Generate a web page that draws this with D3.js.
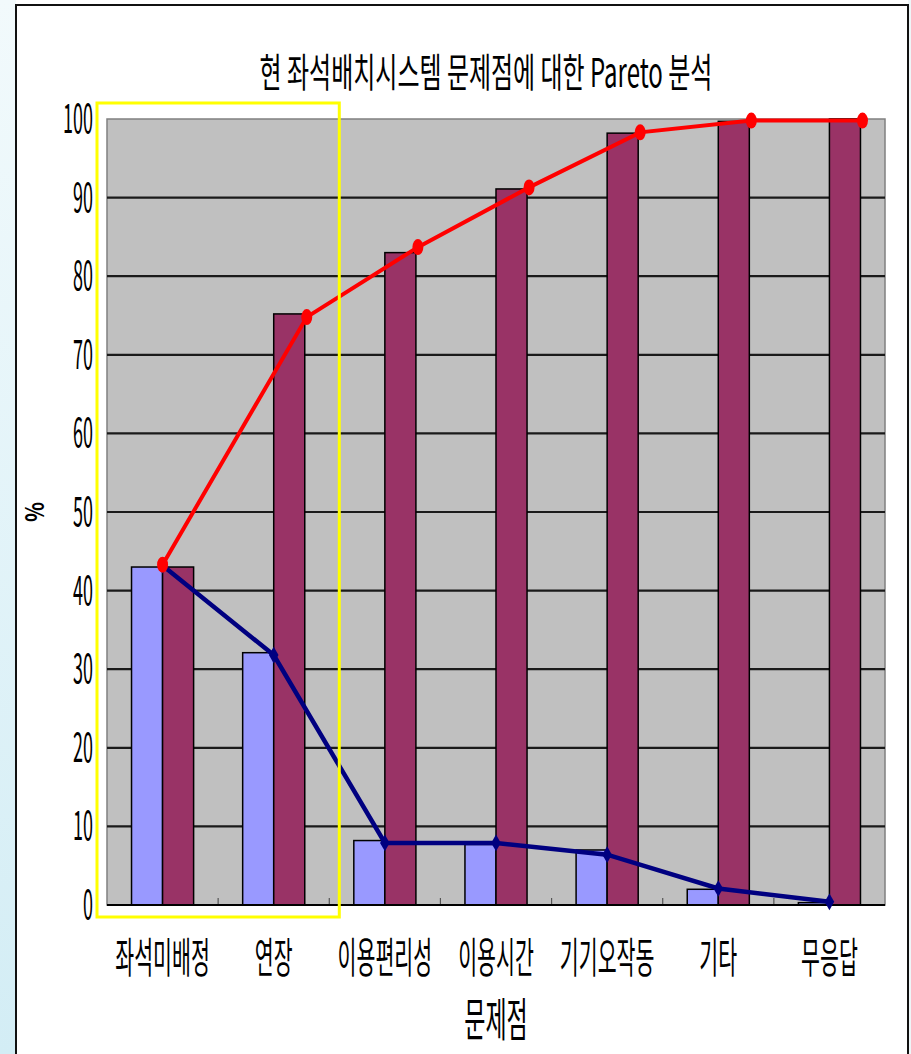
<!DOCTYPE html>
<html>
<head>
<meta charset="utf-8">
<script src="https://cdn.jsdelivr.net/npm/d3@7"></script>
<style>
  body { margin: 0; background: #fff; }
  svg text { font-family: "Noto Sans CJK KR", "Noto Sans", sans-serif; fill: #000; }
</style>
</head>
<body>
<div id="chart"></div>
<script>
// 문제점 categories
var categories = ["좌석미배정", "연장", "이용편리성", "이용시간", "기기오작동", "기타", "무응답"];
// 빈도 % (bars) and cumulative % (bars)
var freqValues = [43.0, 32.1, 8.2, 7.7, 7.0, 2.0, 0.3];
var cumValues = [43.0, 75.2, 83.0, 91.1, 98.2, 99.7, 100];
// line series as plotted
var freqLine = [43.2, 31.8, 7.9, 7.9, 6.4, 2.1, 0.4];
var cumLine = [43.3, 74.8, 83.7, 91.3, 98.3, 99.8, 99.8];
var yTicks = [0, 10, 20, 30, 40, 50, 60, 70, 80, 90, 100];

var svgWidth = 911;
var svgHeight = 1054;
var margin = { top: 119, right: 26, bottom: 149, left: 107 };
var chart_width = svgWidth - margin.left - margin.right;
var chart_height = svgHeight - margin.top - margin.bottom;

var svg = d3.select("#chart")
    .append("svg")
    .attr("width", svgWidth)
    .attr("height", svgHeight);

// left light-blue strip
var grad = svg.append("defs").append("linearGradient")
    .attr("id", "side").attr("x1", 0).attr("y1", 0).attr("x2", 0).attr("y2", 1);
grad.append("stop").attr("offset", "0%").attr("stop-color", "#f2fafc");
grad.append("stop").attr("offset", "100%").attr("stop-color", "#d3edf5");
svg.append("rect").attr("x", 0).attr("y", 0).attr("width", 16).attr("height", svgHeight)
    .attr("fill", "url(#side)");
svg.append("rect").attr("x", 908).attr("y", 0).attr("width", 3).attr("height", svgHeight)
    .attr("fill", "#eef6f8");

// outer frame
svg.append("rect")
    .attr("x", 16).attr("y", 5)
    .attr("width", 892).attr("height", svgHeight)
    .attr("fill", "#fff")
    .attr("stroke", "#111")
    .attr("stroke-width", 2);

// condensed text helper
function label(g, x, y, str, size, sx, anchor, weight) {
    return g.append("text")
        .attr("transform", `translate(${x}, ${y}) scale(${sx}, 1)`)
        .attr("text-anchor", anchor || "middle")
        .style("font-size", size + "px")
        .style("font-weight", weight || "normal")
        .text(str);
}

var chartGroup = svg.append("g")
    .attr("transform", `translate(${margin.left}, ${margin.top})`);

var xScale = d3.scaleBand()
    .domain(categories)
    .range([0, chart_width]);

var xSub = d3.scaleBand()
    .domain(["freq", "cum"])
    .range([0, xScale.bandwidth()])
    .paddingOuter(0.79);

var yScale = d3.scaleLinear()
    .domain([0, 100])
    .range([chart_height, 0]);

var bw = xSub.bandwidth();
var center = d => xScale(d) + xScale.bandwidth() / 2;

// plot area
chartGroup.append("rect")
    .attr("width", chart_width)
    .attr("height", chart_height)
    .attr("fill", "#c0c0c0")
    .attr("stroke", "#808080")
    .attr("stroke-width", 1.5);

// gridlines
chartGroup.append("g")
    .selectAll("line")
    .data(yTicks.filter(t => t > 0 && t < 100))
    .enter()
    .append("line")
    .attr("x1", 0).attr("x2", chart_width)
    .attr("y1", d => yScale(d)).attr("y2", d => yScale(d))
    .attr("stroke", "#1a1a1a")
    .attr("stroke-width", 2.2);

// inside x ticks at category boundaries
chartGroup.append("g")
    .selectAll("line")
    .data(categories.slice(1))
    .enter()
    .append("line")
    .attr("x1", d => xScale(d)).attr("x2", d => xScale(d))
    .attr("y1", chart_height).attr("y2", chart_height - 7)
    .attr("stroke", "#555")
    .attr("stroke-width", 1.2);

// bars
chartGroup.append("g")
    .selectAll("rect")
    .data(categories)
    .enter()
    .append("rect")
    .attr("x", d => xScale(d) + xSub("freq"))
    .attr("y", (d, i) => yScale(freqValues[i]))
    .attr("width", bw)
    .attr("height", (d, i) => chart_height - yScale(freqValues[i]))
    .attr("fill", "#9999ff")
    .attr("stroke", "#000")
    .attr("stroke-width", 1.5);

chartGroup.append("g")
    .selectAll("rect")
    .data(categories)
    .enter()
    .append("rect")
    .attr("x", d => xScale(d) + xSub("cum"))
    .attr("y", (d, i) => yScale(cumValues[i]))
    .attr("width", bw)
    .attr("height", (d, i) => chart_height - yScale(cumValues[i]))
    .attr("fill", "#993366")
    .attr("stroke", "#000")
    .attr("stroke-width", 1.5);

// bottom axis line
chartGroup.append("line")
    .attr("x1", 0).attr("x2", chart_width)
    .attr("y1", chart_height).attr("y2", chart_height)
    .attr("stroke", "#000")
    .attr("stroke-width", 2.2);

// blue frequency line
var blueX = d => center(d);
var blueLine = d3.line()
    .x(d => blueX(d))
    .y((d, i) => yScale(freqLine[i]));

chartGroup.append("path")
    .datum(categories)
    .attr("d", blueLine)
    .attr("fill", "none")
    .attr("stroke", "#000080")
    .attr("stroke-width", 4.5);

chartGroup.append("g")
    .selectAll("path")
    .data(categories)
    .enter()
    .append("path")
    .attr("d", d3.symbol(d3.symbolDiamond, 80))
    .attr("transform", (d, i) => `translate(${blueX(d)}, ${yScale(freqLine[i])})`)
    .attr("fill", "#000080");

// red cumulative line
var redX = (d, i) => i === 0 ? center(d) : center(d) + bw + 2;
var redLine = d3.line()
    .x((d, i) => redX(d, i))
    .y((d, i) => yScale(cumLine[i]));

chartGroup.append("path")
    .datum(categories)
    .attr("d", redLine)
    .attr("fill", "none")
    .attr("stroke", "#ff0000")
    .attr("stroke-width", 4);

chartGroup.append("g")
    .selectAll("ellipse")
    .data(categories)
    .enter()
    .append("ellipse")
    .attr("cx", (d, i) => redX(d, i))
    .attr("cy", (d, i) => yScale(cumLine[i]))
    .attr("rx", 5.5)
    .attr("ry", 8)
    .attr("fill", "#ff0000");

// y tick labels
yTicks.forEach(function(t) {
    label(chartGroup, -14, yScale(t) + 14, String(t), 40, 0.45, "end");
});

// x labels
categories.forEach(function(c) {
    label(chartGroup, center(c), chart_height + 68, c, 42, 0.49, "middle");
});

// yellow highlight box
chartGroup.append("rect")
    .attr("x", -10)
    .attr("y", -16)
    .attr("width", xScale(categories[2]) + 20)
    .attr("height", chart_height + 28)
    .attr("fill", "none")
    .attr("stroke", "#ffff00")
    .attr("stroke-width", 3);

// title and axis titles
label(svg, 486, 87, "현 좌석배치시스템 문제점에 대한 Pareto 분석", 40, 0.6, "middle");
label(svg, 496, 1036, "문제점", 46, 0.5, "middle");

svg.append("text")
    .attr("transform", "translate(44, 512) rotate(-90) scale(0.8, 1)")
    .attr("text-anchor", "middle")
    .style("font-size", "26px")
    .style("font-weight", "bold")
    .text("%");
</script>
</body>
</html>
